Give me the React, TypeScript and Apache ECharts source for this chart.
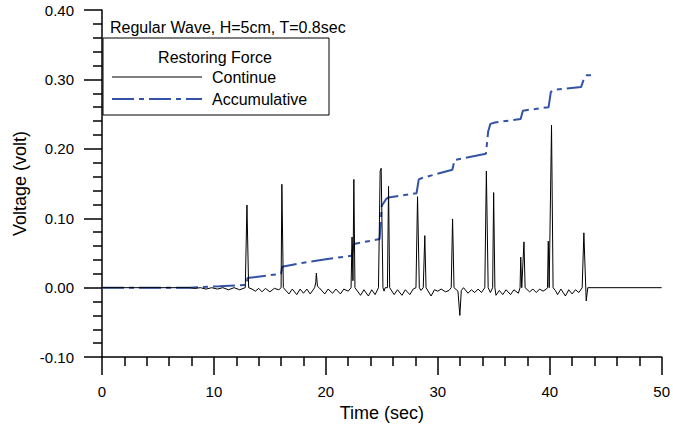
import React, { useEffect, useRef } from "react";
import * as echarts from "echarts";

const xTicks = [0, 10, 20, 30, 40, 50];
const yTicks = [-0.1, 0, 0.1, 0.2, 0.3, 0.4];

const continueSeries: [number, number][] = [
  [0, 0], [7.8, 0], [8.3, -0.001], [8.8, 0], [9.3, -0.002], [9.8, 0], [10.3, -0.002], [10.8, 0], [11.3, -0.003], [11.8, 0], [12.3, -0.003], [12.8, 0],
  [12.95, 0.119], [13.1, 0], [13.4, -0.002], [13.7, -0.005], [14.0, -0.001], [14.3, -0.006], [14.6, -0.001], [15.0, -0.006], [15.4, -0.001], [15.8, -0.003], [16.0, 0], [16.07, 0.149], [16.2, 0],
  [16.7, -0.009], [17.0, -0.002], [17.4, -0.01], [17.7, -0.002], [18.0, -0.008], [18.3, -0.002], [18.6, -0.009], [19.0, 0], [19.1, 0.008], [19.15, 0.021], [19.25, 0.002], [19.4, 0],
  [19.9, -0.009], [20.2, -0.002], [20.6, -0.008], [20.9, -0.002], [21.3, -0.009], [21.6, -0.002], [22.0, -0.005], [22.25, 0], [22.34, 0.073], [22.42, 0.01], [22.5, 0.156], [22.6, 0],
  [23.1, -0.011], [23.4, -0.003], [23.8, -0.012], [24.1, -0.003], [24.4, -0.01], [24.7, 0], [24.85, 0.168], [24.94, 0.172], [25.1, 0], [25.2, -0.005], [25.3, 0], [25.5, 0], [25.6, 0.146], [25.7, 0],
  [26.1, -0.01], [26.4, -0.003], [26.8, -0.011], [27.1, -0.003], [27.5, -0.01], [27.8, -0.002], [28.05, 0], [28.19, 0.131], [28.35, 0], [28.5, -0.004], [28.7, 0], [28.84, 0.075], [28.95, 0],
  [29.4, -0.012], [29.7, -0.003], [30.0, -0.005], [30.3, -0.002], [30.7, -0.006], [31.0, -0.004], [31.2, 0], [31.32, 0.099], [31.45, 0], [31.8, -0.005], [31.97, -0.04], [32.1, -0.004], [32.3, 0],
  [32.7, -0.008], [33.0, -0.003], [33.3, -0.007], [33.6, -0.002], [33.9, -0.007], [34.2, 0], [34.34, 0.168], [34.5, 0], [34.7, -0.007], [34.9, 0], [34.99, 0.137], [35.1, 0], [35.2, -0.011],
  [35.5, -0.004], [35.8, -0.01], [36.1, -0.003], [36.5, -0.01], [36.8, -0.003], [37.2, -0.008], [37.35, 0], [37.41, 0.044], [37.5, 0], [37.7, 0.066], [37.8, 0],
  [38.2, -0.006], [38.5, -0.002], [38.8, -0.007], [39.1, -0.002], [39.4, -0.005], [39.7, -0.002], [39.8, 0], [39.87, 0.067], [39.95, 0], [40.16, 0.234], [40.3, 0], [40.5, -0.004], [40.7, -0.01],
  [41.0, -0.002], [41.4, -0.012], [41.7, -0.003], [42.0, -0.009], [42.3, -0.003], [42.6, -0.007], [42.9, 0], [43.05, 0.079], [43.26, -0.019], [43.4, 0], [50, 0],
];

const accumulativeSeries: [number, number][] = [
  [0, 0], [7.8, 0], [9, 0.001], [10.5, 0.002], [12.9, 0.004], [13.0, 0.014], [16.0, 0.02], [16.1, 0.03], [18, 0.036], [20, 0.041], [22.3, 0.046], [22.5, 0.063],
  [24.8, 0.07], [25.0, 0.118], [25.4, 0.128], [25.6, 0.13], [28.1, 0.136], [28.3, 0.156], [28.6, 0.158], [31.3, 0.17], [31.5, 0.184], [34.3, 0.193], [34.5, 0.225],
  [34.7, 0.236], [35.1, 0.238], [37.4, 0.243], [37.6, 0.255], [39.9, 0.26], [40.1, 0.282], [40.4, 0.285], [42.8, 0.289], [43.1, 0.303], [43.3, 0.306], [43.8, 0.306],
];

const titleText = "Regular Wave, H=5cm, T=0.8sec";
const legendTitle = "Restoring Force";
const seriesNames = ["Continue", "Accumulative"];

const FONT = "'Liberation Sans', Arial, sans-serif";
const BLUE = "#3453A6";
const DASH = [22, 5, 5, 5];

export default function App() {
  const ref = useRef<HTMLDivElement>(null);
  useEffect(() => {
    if (!ref.current) return;
    const chart = echarts.init(ref.current, undefined, { renderer: "svg" });
    chart.setOption({
      animation: false,
      backgroundColor: "#ffffff",
      textStyle: { fontFamily: FONT },
      grid: { left: 102, right: 7, top: 10, bottom: 67.5, containLabel: false },
      xAxis: {
        type: "value",
        min: xTicks[0],
        max: xTicks[xTicks.length - 1],
        interval: 10,
        name: "Time (sec)",
        nameLocation: "middle",
        nameGap: 43,
        nameTextStyle: { fontSize: 18, color: "#000", fontFamily: FONT },
        axisLine: { onZero: false, lineStyle: { color: "#000", width: 1.5 } },
        axisTick: { show: true, inside: false, length: 18, lineStyle: { color: "#000", width: 1.5 } },
        minorTick: { show: true, splitNumber: 5, length: 9, lineStyle: { color: "#000", width: 1.5 } },
        splitLine: { show: false },
        axisLabel: { fontSize: 15, color: "#000", margin: 27, fontFamily: FONT },
      },
      yAxis: {
        type: "value",
        min: yTicks[0],
        max: yTicks[yTicks.length - 1],
        interval: 0.1,
        name: "Voltage (volt)",
        nameLocation: "middle",
        nameGap: 72,
        nameTextStyle: { fontSize: 18, color: "#000", fontFamily: FONT },
        axisLine: { onZero: false, lineStyle: { color: "#000", width: 1.5 } },
        axisTick: { show: true, inside: false, length: 18, lineStyle: { color: "#000", width: 1.5 } },
        minorTick: { show: true, splitNumber: 5, length: 9, lineStyle: { color: "#000", width: 1.5 } },
        splitLine: { show: false },
        axisLabel: {
          fontSize: 15,
          color: "#000",
          margin: 28,
          fontFamily: FONT,
          formatter: (v: number) => v.toFixed(2),
        },
      },
      series: [
        {
          name: seriesNames[0],
          type: "line",
          data: continueSeries,
          showSymbol: false,
          symbol: "none",
          lineStyle: { color: "#000", width: 1 },
          z: 3,
        },
        {
          name: seriesNames[1],
          type: "line",
          data: accumulativeSeries,
          showSymbol: false,
          symbol: "none",
          lineStyle: { color: BLUE, width: 2, type: DASH },
          z: 2,
        },
      ],
      graphic: [
        {
          type: "text",
          left: 110,
          top: 19,
          style: { text: titleText, fontSize: 16, fill: "#000", fontFamily: FONT },
          z: 10,
        },
        {
          type: "rect",
          shape: { x: 103, y: 38, width: 226, height: 77 },
          style: { fill: "#fff", stroke: "#000", lineWidth: 1 },
          z: 10,
        },
        {
          type: "text",
          x: 215,
          y: 57,
          style: { text: legendTitle, fontSize: 16, fill: "#000", fontFamily: FONT, align: "center", verticalAlign: "middle" },
          z: 11,
        },
        {
          type: "line",
          shape: { x1: 112, y1: 77, x2: 202, y2: 77 },
          style: { stroke: "#000", lineWidth: 1 },
          z: 11,
        },
        {
          type: "text",
          x: 212,
          y: 77,
          style: { text: seriesNames[0], fontSize: 16, fill: "#000", fontFamily: FONT, align: "left", verticalAlign: "middle" },
          z: 11,
        },
        {
          type: "line",
          shape: { x1: 112, y1: 99, x2: 202, y2: 99 },
          style: { stroke: BLUE, lineWidth: 2, lineDash: DASH },
          z: 11,
        },
        {
          type: "text",
          x: 212,
          y: 99,
          style: { text: seriesNames[1], fontSize: 16, fill: "#000", fontFamily: FONT, align: "left", verticalAlign: "middle" },
          z: 11,
        },
      ],
    });
    return () => chart.dispose();
  }, []);
  return <div ref={ref} style={{ width: 673, height: 427, position: "absolute", left: 0, top: 0 }} />;
}
